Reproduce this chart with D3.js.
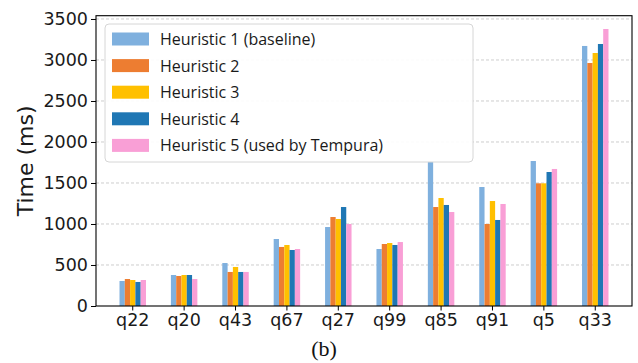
<!DOCTYPE html>
<html>
<head>
<meta charset="utf-8">
<script src="https://cdn.jsdelivr.net/npm/d3@7"></script>
<style>
  body { margin: 0; background: #fff; }
  svg { display: block; }
</style>
</head>
<body>
<script>
(function(){

//queries along the x axis
var queries = ["q22", "q20", "q43", "q67", "q27", "q99", "q85", "q91", "q5", "q33"];

//legend names for the five heuristics
var seriesNames = ["Heuristic 1 (baseline)", "Heuristic 2", "Heuristic 3", "Heuristic 4", "Heuristic 5 (used by Tempura)"];

//run time in ms per heuristic, one value per query
var heuristic1 = [305, 378, 524, 817, 963, 695, 1760, 1451, 1768, 3171];
var heuristic2 = [329, 366, 415, 720, 1085, 756, 1207, 1000, 1496, 2963];
var heuristic3 = [317, 378, 476, 744, 1061, 768, 1317, 1280, 1496, 3085];
var heuristic4 = [293, 378, 415, 683, 1207, 744, 1232, 1049, 1634, 3195];
var heuristic5 = [317, 329, 415, 695, 1000, 780, 1146, 1244, 1671, 3378];

var yTicks = [0, 500, 1000, 1500, 2000, 2500, 3000, 3500];

var seriesValues = [heuristic1, heuristic2, heuristic3, heuristic4, heuristic5];
var colors = ["#7fb0de", "#ed7d31", "#ffc000", "#1f77b4", "#f99fd6"];

var width = 638, height = 363;
var left = 96, right = 632, top = 15.7, bottom = 306;

var svg = d3.select("body").append("svg")
    .attr("width", width)
    .attr("height", height);

//scales
var x = d3.scaleBand()
    .domain(queries)
    .range([left, right])
    .paddingInner(0)
    .paddingOuter(0.215);

var groupWidth = x.step() * 0.515;
var xInner = d3.scaleBand()
    .domain(d3.range(seriesNames.length))
    .range([-groupWidth / 2, groupWidth / 2]);

var y = d3.scaleLinear()
    .domain([0, 3540])
    .range([bottom, top]);

//dashed grid lines
svg.append("g")
    .selectAll("line")
    .data(yTicks.slice(1))
    .enter()
    .append("line")
    .attr("x1", left)
    .attr("x2", right)
    .attr("y1", function(d){ return y(d); })
    .attr("y2", function(d){ return y(d); })
    .attr("stroke", "#c8c8c8")
    .attr("stroke-width", 0.9)
    .attr("stroke-dasharray", "3,2");

//bars, one group per query
var groups = svg.append("g")
    .selectAll("g")
    .data(queries)
    .enter()
    .append("g")
    .attr("transform", function(d){ return "translate(" + (x(d) + x.bandwidth() / 2) + ",0)"; });

groups.selectAll("rect")
    .data(function(d, qi){
        return seriesValues.map(function(vals, si){ return {s: si, v: vals[qi]}; });
    })
    .enter()
    .append("rect")
    .attr("x", function(d){ return xInner(d.s); })
    .attr("width", xInner.bandwidth())
    .attr("y", function(d){ return y(d.v); })
    .attr("height", function(d){ return bottom - y(d.v); })
    .attr("fill", function(d){ return colors[d.s]; });

//axes
var yAxis = d3.axisLeft(y)
    .tickValues(yTicks)
    .tickFormat(d3.format("d"))
    .tickSize(5)
    .tickPadding(3)
    .tickSizeOuter(0);

var yG = svg.append("g")
    .attr("transform", "translate(" + left + ",0)")
    .call(yAxis);

var xAxis = d3.axisBottom(x)
    .tickSize(4.5)
    .tickPadding(3)
    .tickSizeOuter(0);

var xG = svg.append("g")
    .attr("transform", "translate(0," + bottom + ")")
    .call(xAxis);

[yG, xG].forEach(function(g){
    g.select(".domain").remove();
    g.selectAll(".tick line").attr("stroke", "#000").attr("stroke-width", 1);
    g.selectAll(".tick text")
        .attr("fill", "#1a1a1a")
        .style("font-family", "'DejaVu Sans', sans-serif")
        .style("font-size", "17.5px");
});

//frame around the plot
svg.append("rect")
    .attr("x", left)
    .attr("y", top)
    .attr("width", right - left)
    .attr("height", bottom - top)
    .attr("fill", "none")
    .attr("stroke", "#000")
    .attr("stroke-width", 1.1);

//y axis title
svg.append("text")
    .attr("transform", "translate(33," + ((top + bottom) / 2) + ") rotate(-90)")
    .attr("text-anchor", "middle")
    .style("font-family", "'DejaVu Sans', sans-serif")
    .style("font-size", "22px")
    .attr("fill", "#1a1a1a")
    .text("Time (ms)");

//legend
var legend = svg.append("g").attr("transform", "translate(105,24)");

legend.append("rect")
    .attr("width", 368)
    .attr("height", 138)
    .attr("rx", 4)
    .attr("fill", "#fff")
    .attr("fill-opacity", 0.9)
    .attr("stroke", "#d6d6d6")
    .attr("stroke-width", 1);

var items = legend.selectAll(".item")
    .data(seriesNames)
    .enter()
    .append("g")
    .attr("class", "item")
    .attr("transform", function(d, i){ return "translate(0," + (15 + i * 26.6) + ")"; });

items.append("rect")
    .attr("x", 7)
    .attr("y", -6.5)
    .attr("width", 37)
    .attr("height", 13)
    .attr("fill", function(d, i){ return colors[i]; });

items.append("text")
    .attr("x", 55)
    .attr("y", 6)
    .style("font-family", "'Open Sans', sans-serif")
    .style("font-size", "16px")
    .attr("fill", "#1a1a1a")
    .text(function(d){ return d; });

//caption
svg.append("text")
    .attr("x", 324)
    .attr("y", 356)
    .attr("text-anchor", "middle")
    .style("font-family", "'Liberation Serif', serif")
    .style("font-size", "22px")
    .attr("fill", "#111")
    .text("(b)");

})();
</script>
</body>
</html>
